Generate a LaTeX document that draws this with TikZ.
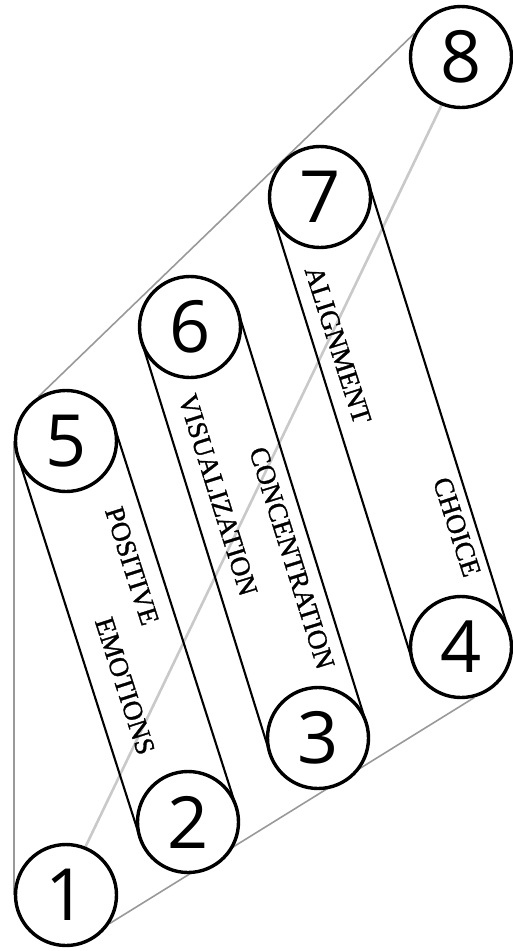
\documentclass[tikz,border=0pt]{standalone}
\usepackage{fontspec}
\setmainfont{Liberation Serif}
\newfontfamily\labfont{Liberation Serif}[FakeBold=1.2]
\newfontfamily\numfont{Open Sans}
\usetikzlibrary{calc}
\pgfdeclarelayer{bg}
\pgfsetlayers{bg,main}
\begin{document}
\begin{tikzpicture}[x=1pt,y=-1pt,
  num/.style={circle, draw, line width=3.4pt, fill=white, minimum size=101pt, inner sep=0pt, font=\numfont\fontsize{72}{72}\selectfont},
  lab/.style={font=\labfont\fontsize{27.5}{28}\selectfont, inner sep=0pt},
  framel/.style={draw=black!40, line width=1.6pt},
  diagl/.style={draw=black!21, line width=2.6pt},
  capline/.style={line width=2.1pt}]
\useasboundingbox (0,0) rectangle (513,951);
\node[num] (c1) at (66,895) {1};
\node[num] (c2) at (188,822) {2};
\node[num] (c3) at (318,738) {3};
\node[num] (c4) at (461,647) {4};
\node[num] (c5) at (66,441) {5};
\node[num] (c6) at (190,327) {6};
\node[num] (c7) at (320,197) {7};
\node[num] (c8) at (461,57) {8};
\begin{pgfonlayer}{bg}
\draw[framel] (c1.180) -- (c5.180);
\draw[framel] (c5.122) -- (c8.153);
\draw[framel] (c1.-33) -- (c4.-75);
\draw[diagl] (c1.68) -- (c8.-112);
\foreach \a/\b in {c5/c2,c6/c3,c7/c4}{
  \draw[capline] ($(\a)!50.5pt!90:(\b)$) -- ($(\b)!50.5pt!-90:(\a)$);
  \draw[capline] ($(\a)!50.5pt!-90:(\b)$) -- ($(\b)!50.5pt!90:(\a)$);
}
\end{pgfonlayer}
\node[lab, rotate=-72.2] (t1) at (132,566) {POSITIVE};
\node[lab, rotate=-72.2] (t2) at (125,686) {EMOTIONS};
\node[lab, rotate=-72.7] (t3) at (218,495) {VISUALIZATION};
\node[lab, rotate=-72.7] (t4) at (292,558) {CONCENTRATION};
\node[lab, rotate=-72.2] (t5) at (338,345) {ALIGNMENT};
\node[lab, rotate=-72.2] (t6) at (457,527) {CHOICE};
\end{tikzpicture}
\end{document}
